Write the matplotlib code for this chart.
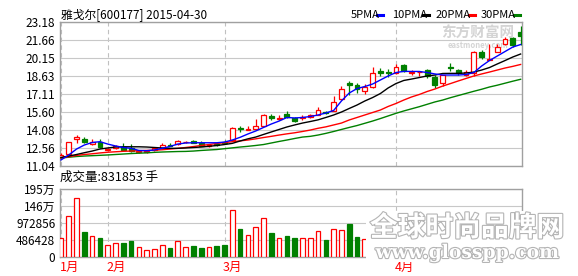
import matplotlib.pyplot as plt
import matplotlib.patheffects as pe
from matplotlib.patches import Rectangle
from matplotlib.lines import Line2D
import numpy as np

plt.rcParams['font.family'] = ['Noto Sans CJK SC', 'DejaVu Sans']

# daily candles, 2015-01-23 .. 2015-04
opens = [11.80, 12.08, 13.29, 13.34, 12.90, 13.06, 12.36, 12.58, 12.62, 12.56,
         12.18, 12.20, 12.37, 12.56, 12.85, 12.90, 13.05, 13.15, 12.95, 12.70,
         12.88, 13.10, 13.23, 14.27, 14.10, 14.17, 14.44, 15.25, 15.00, 15.45,
         15.12, 15.05, 15.15, 15.34, 15.62, 15.70, 16.66, 18.03, 17.84, 17.34,
         17.73, 19.02, 18.96, 18.85, 19.58, 18.90, 18.95, 19.10, 18.54, 18.00,
         19.40, 19.10, 18.70, 18.85, 20.68, 20.00, 20.68, 21.30, 21.80, 22.30]
highs = [12.16, 13.10, 13.68, 13.46, 13.29, 13.29, 12.55, 12.80, 12.95, 12.90,
         12.35, 12.35, 12.60, 13.00, 12.97, 13.20, 13.18, 13.25, 13.12, 12.90,
         12.98, 13.20, 14.35, 14.45, 14.45, 14.98, 15.40, 15.42, 15.30, 15.70,
         15.20, 15.30, 15.40, 15.99, 15.70, 16.94, 17.78, 18.23, 18.00, 17.95,
         19.36, 19.30, 19.25, 19.64, 19.65, 19.10, 19.05, 19.25, 18.70, 18.75,
         19.70, 19.20, 19.10, 20.73, 20.80, 21.33, 21.30, 21.89, 21.95, 22.87]
lows = [11.70, 12.00, 12.95, 12.95, 12.85, 12.55, 12.30, 12.50, 12.40, 12.25,
        12.10, 12.10, 12.30, 12.50, 12.70, 12.85, 12.95, 12.95, 12.70, 12.65,
        12.75, 12.90, 13.20, 13.90, 14.05, 14.10, 14.40, 14.90, 14.90, 15.10,
        14.75, 14.95, 15.05, 15.30, 15.45, 15.65, 16.60, 17.05, 17.22, 17.10,
        17.65, 18.60, 18.55, 18.80, 19.00, 18.70, 18.65, 18.45, 17.60, 17.80,
        19.05, 18.75, 18.65, 18.65, 20.10, 19.95, 20.65, 21.25, 21.10, 21.24]
closes = [11.94, 13.06, 13.46, 13.04, 13.06, 12.62, 12.46, 12.70, 12.42, 12.28,
          12.30, 12.28, 12.56, 12.78, 12.75, 13.12, 13.10, 13.00, 12.75, 12.80,
          12.82, 12.95, 14.27, 14.15, 14.15, 14.41, 15.34, 15.08, 15.05, 15.17,
          14.84, 15.20, 15.30, 15.76, 15.52, 16.46, 17.50, 17.86, 17.53, 17.73,
          18.90, 18.85, 18.90, 19.41, 19.07, 19.00, 19.00, 18.60, 17.87, 18.72,
          19.27, 18.85, 18.99, 20.68, 20.26, 20.05, 21.10, 21.72, 21.25, 22.00]

ma5 = [11.55, 11.97, 12.47, 12.81, 13.02, 13.09, 12.89, 12.73, 12.60, 12.53,
       12.35, 12.33, 12.39, 12.53, 12.69, 12.89, 12.98, 13.00, 13.00, 13.00,
       13.00, 13.06, 13.23, 13.46, 13.74, 13.99, 14.29, 14.58, 14.83, 15.13,
       15.09, 15.13, 15.21, 15.34, 15.51, 15.72, 16.52, 17.19, 17.57, 17.74,
       17.95, 18.29, 18.63, 18.92, 19.02, 19.01, 19.01, 18.92, 18.80, 18.71,
       18.71, 18.71, 18.75, 18.92, 19.47, 19.93, 20.31, 20.69, 21.07, 21.28]
ma10 = [11.76, 11.88, 12.01, 12.16, 12.30, 12.47, 12.56, 12.64, 12.66, 12.66,
        12.66, 12.64, 12.60, 12.56, 12.53, 12.53, 12.56, 12.60, 12.64, 12.70,
        12.77, 12.85, 12.95, 13.15, 13.33, 13.48, 13.70, 13.91, 14.12, 14.33,
        14.50, 14.66, 14.79, 14.93, 15.13, 15.34, 15.59, 15.89, 16.18, 16.52,
        16.81, 17.15, 17.62, 17.99, 18.25, 18.37, 18.50, 18.63, 18.71, 18.84,
        18.85, 18.85, 18.88, 18.96, 19.13, 19.34, 19.64, 19.93, 20.23, 20.48]
ma20 = [11.73, 11.82, 11.93, 12.01, 12.07, 12.14, 12.20, 12.24, 12.28, 12.30,
        12.33, 12.35, 12.37, 12.41, 12.47, 12.53, 12.60, 12.68, 12.77, 12.85,
        12.94, 13.01, 13.09, 13.16, 13.23, 13.33, 13.44, 13.54, 13.65, 13.75,
        13.84, 13.95, 14.07, 14.22, 14.34, 14.50, 14.66, 14.92, 15.13, 15.34,
        15.55, 15.76, 16.06, 16.31, 16.60, 16.86, 17.07, 17.32, 17.53, 17.78,
        17.99, 18.21, 18.42, 18.63, 18.80, 18.96, 19.13, 19.30, 19.44, 19.60]
ma30 = [11.71, 11.78, 11.84, 11.88, 11.91, 11.94, 11.97, 12.01, 12.05, 12.09,
        12.12, 12.15, 12.19, 12.22, 12.24, 12.26, 12.27, 12.30, 12.35, 12.39,
        12.43, 12.50, 12.57, 12.64, 12.70, 12.77, 12.85, 12.98, 13.11, 13.23,
        13.36, 13.48, 13.54, 13.65, 13.79, 13.95, 14.12, 14.29, 14.45, 14.64,
        14.83, 15.04, 15.26, 15.48, 15.68, 15.86, 16.04, 16.24, 16.44, 16.60,
        16.80, 16.98, 17.16, 17.34, 17.51, 17.70, 17.85, 18.02, 18.19, 18.35]

# last 20 volumes sit under the watermark in the source, rough guesses
volume = [530000, 1165000, 1686000, 713000, 588000, 539000, 356000, 414000, 395000, 453000,
          299000, 212000, 241000, 356000, 250000, 472000, 299000, 308000, 250000, 299000,
          308000, 337000, 1339000, 799000, 616000, 848000, 1108000, 684000, 530000, 597000,
          549000, 539000, 539000, 742000, 491000, 799000, 771000, 944000, 568000, 510000,
          1100000, 900000, 700000, 800000, 750000, 550000, 500000, 700000, 850000, 750000,
          900000, 600000, 550000, 1100000, 1000000, 1050000, 950000, 1000000, 950000, 1150000]

price_ticks = [11.04, 12.56, 14.08, 15.60, 17.11, 18.63, 20.15, 21.66, 23.18]
vol_ticks = [0, 486428, 972856, 1459284, 1945712]
vol_labels = ['0', '486428', '972856', '146万', '195万']
month_pos = [0, 6, 21, 43]
month_labels = ['1月', '2月', '3月', '4月']

RED = '#ff0000'
GREEN = '#008000'
GRID = '#c8c8c8'
FRAME = '#a0a0a0'

W, H = 578, 276
def fx(px):
    return px / W
def fy(py):
    return 1 - py / H

fig = plt.figure(figsize=(W / 100, H / 100), dpi=100)
fig.patch.set_facecolor('white')

ax = fig.add_axes([fx(59.5), fy(166), fx(522) - fx(59.5), fy(22) - fy(166)])
ax2 = fig.add_axes([fx(59.5), fy(257), fx(522) - fx(59.5), fy(189) - fy(257)])

x = np.arange(len(closes))
o = np.array(opens)
c = np.array(closes)
up = c >= o
cols = np.where(up, RED, GREEN)
faces = np.where(up, 'white', GREEN)

##################################################################### price
for i in x:
    lo_body = min(o[i], c[i])
    hi_body = max(o[i], c[i])
    ax.vlines(i, lows[i], lo_body, color=cols[i], lw=0.9, zorder=3)
    ax.vlines(i, hi_body, highs[i], color=cols[i], lw=0.9, zorder=3)
ax.bar(x, np.abs(c - o), bottom=np.minimum(o, c), width=0.62,
       facecolor=faces, edgecolor=cols, linewidth=0.9, zorder=4)

ax.plot(x, ma30, color=GREEN, lw=1.0, zorder=5)
ax.plot(x, ma20, color=RED, lw=1.0, zorder=5)
ax.plot(x, ma10, color='black', lw=1.0, zorder=5)
ax.plot(x, ma5, color='#0000ff', lw=1.0, zorder=5)

ax.set_ylim(price_ticks[0], price_ticks[-1])
ax.set_yticks(price_ticks)
ax.set_yticklabels(['%.2f' % t for t in price_ticks])

# faint site logo behind the candles
ax.text(fx(478), fy(33), '东方财富网', transform=fig.transFigure, ha='center', va='center',
        fontsize=10.5, fontweight='bold', color='#d4d4d4', zorder=1)
ax.text(fx(478), fy(46), 'eastmoney.com', transform=fig.transFigure, ha='center', va='center',
        fontsize=5.5, fontweight='bold', style='italic', color='#d4d4d4', zorder=1)

##################################################################### volume
ax2.bar(x, volume, width=0.6, facecolor=faces, edgecolor=cols, linewidth=0.9, zorder=3)
ax2.set_ylim(0, vol_ticks[-1])
ax2.set_yticks(vol_ticks)
ax2.set_yticklabels(vol_labels)

for a in (ax, ax2):
    a.set_xlim(-0.19, 59.18)
    a.set_xticks([])
    a.grid(axis='y', color=GRID, lw=0.8)
    a.set_axisbelow(True)
    for m in month_pos:
        a.axvline(m, color='#c0c0c0', lw=0.8, ls=(0, (4, 3)), zorder=0)
    for s in a.spines.values():
        s.set_color(FRAME)
        s.set_linewidth(1.0)
    a.tick_params(axis='y', length=0, pad=3, labelsize=8.5, colors='black')

for m, lab in zip(month_pos, month_labels):
    ax2.text(m - 0.2, -0.16, lab, transform=ax2.get_xaxis_transform(),
             ha='left', va='center', fontsize=9, color=RED)

##################################################################### texts
fig.text(fx(61), fy(14.5), '雅戈尔[600177] 2015-04-30', ha='left', va='center', fontsize=8.5)
fig.text(fx(60), fy(177), '成交量:831853 手', ha='left', va='center', fontsize=9)

legend_items = [('5PMA', '#0000ff', 351, 377), ('10PMA', 'black', 392, 423),
                ('20PMA', RED, 436, 469), ('30PMA', GREEN, 481, 514)]
for lab, col, tx, lx in legend_items:
    fig.text(fx(tx), fy(14.5), lab, ha='left', va='center', fontsize=8)
    fig.add_artist(Line2D([fx(lx), fx(lx + 6)], [fy(14.5), fy(14.5)],
                          transform=fig.transFigure, color=col, lw=2.2))

# watermark pasted over the lower right corner
fig.add_artist(Rectangle((fx(366), fy(262)), fx(570) - fx(366), fy(211) - fy(262),
                         transform=fig.transFigure, facecolor='white', edgecolor='none', zorder=5))
fig.text(fx(467), fy(228), '全球时尚品牌网', ha='center', va='center', fontsize=20,
         fontweight='bold', color='white', zorder=6,
         path_effects=[pe.withStroke(linewidth=1.6, foreground='#b4b4b4')])
fig.text(fx(467), fy(253), 'www.glosspp.com', ha='center', va='center', fontsize=13.5,
         family='DejaVu Serif', fontweight='bold', color='white', zorder=6,
         path_effects=[pe.withStroke(linewidth=1.6, foreground='#b4b4b4')])

fig.savefig('out.png', dpi=100)
